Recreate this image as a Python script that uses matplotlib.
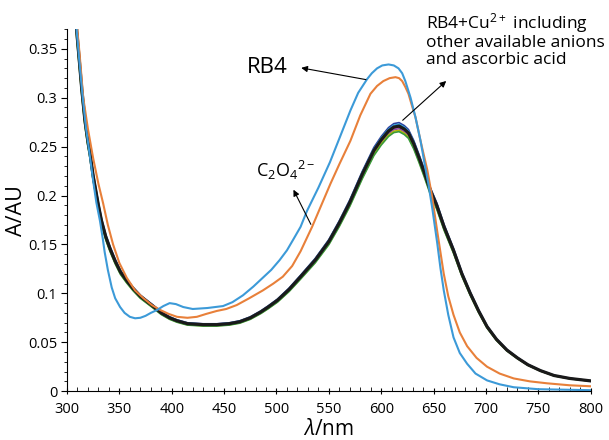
import matplotlib
matplotlib.use('Agg')
import matplotlib.pyplot as plt
from matplotlib.ticker import MultipleLocator, FuncFormatter

plt.rcParams['font.family'] = ['Open Sans', 'DejaVu Sans']
plt.rcParams['mathtext.fontset'] = 'custom'
plt.rcParams['mathtext.rm'] = 'Open Sans'
plt.rcParams['mathtext.it'] = 'Open Sans:italic'

# RB4 alone (blue)
wl_rb4 = [305, 309.3, 312, 315, 318, 321, 325, 328, 331.5, 334, 336, 339, 342.7, 346, 350.7,
          355, 360, 365, 370, 375, 380, 386, 392, 398, 404, 411, 420, 434, 449, 458, 468,
          478, 487, 495, 503, 510, 516, 523, 529, 540, 551, 561, 570.6, 578, 586.5, 591,
          596, 601, 607, 612, 616.5, 620, 623, 628, 632.7, 637.5, 642, 645, 649, 653.5,
          656.5, 659.7, 664, 669, 675, 682, 690, 701, 713, 726.5, 750, 775, 800]
abs_rb4 = [0.46, 0.368, 0.335, 0.30, 0.27, 0.247, 0.215, 0.193, 0.174, 0.157, 0.142, 0.124,
           0.106, 0.095, 0.086, 0.080, 0.076, 0.0745, 0.075, 0.077, 0.080, 0.083, 0.087,
           0.090, 0.089, 0.086, 0.084, 0.085, 0.087, 0.091, 0.098, 0.107, 0.116, 0.124,
           0.134, 0.144, 0.155, 0.168, 0.184, 0.208, 0.234, 0.261, 0.287, 0.305, 0.319,
           0.325, 0.330, 0.333, 0.334, 0.333, 0.330, 0.325, 0.317, 0.300, 0.280, 0.256,
           0.229, 0.212, 0.185, 0.151, 0.126, 0.103, 0.078, 0.055, 0.039, 0.028, 0.018,
           0.011, 0.007, 0.004, 0.002, 0.0015, 0.001]

# RB4 + C2O4(2-) (orange)
wl_ox = [305, 309.8, 312, 315.5, 320, 325, 330, 334.5, 339, 344, 350, 357, 365, 373, 381,
         389, 397, 405, 415, 424, 433, 443, 452, 462, 474, 487, 497, 506, 515, 523, 534,
         551.5, 560, 570.6, 580, 589.7, 596, 602, 608, 613.6, 617, 620, 623, 626, 629,
         632.7, 637.5, 644, 648.7, 653.5, 659.7, 664, 669, 675, 682, 691, 701, 713, 726.5,
         742, 758.6, 780, 800]
abs_ox = [0.47, 0.37, 0.345, 0.30, 0.268, 0.238, 0.212, 0.192, 0.170, 0.150, 0.131, 0.116,
          0.103, 0.095, 0.088, 0.083, 0.079, 0.076, 0.075, 0.076, 0.079, 0.082, 0.084,
          0.088, 0.095, 0.103, 0.110, 0.117, 0.128, 0.143, 0.168, 0.212, 0.232, 0.256,
          0.282, 0.304, 0.312, 0.317, 0.320, 0.321, 0.320, 0.317, 0.311, 0.304, 0.293,
          0.280, 0.256, 0.226, 0.198, 0.163, 0.120, 0.097, 0.078, 0.060, 0.046, 0.034,
          0.025, 0.018, 0.013, 0.010, 0.008, 0.006, 0.005]

# RB4 + Cu2+ (black); other anions / ascorbic acid overlap it
wl_cu = [305, 309.3, 312, 314, 317, 320, 322, 325, 327, 330, 333, 337, 341, 346, 351, 357,
         363, 370, 376, 382, 390, 398, 405, 415, 430, 443, 455, 465, 475, 485, 492, 501,
         512, 523, 537, 550, 560, 570, 582, 593, 600, 607, 612, 617, 622, 626, 631, 636,
         641, 647, 653, 660, 669, 677, 685, 693, 701, 710, 720, 730, 740, 752, 765, 780, 800]
abs_cu = [0.46, 0.368, 0.335, 0.31, 0.278, 0.255, 0.243, 0.220, 0.208, 0.190, 0.174, 0.158,
          0.146, 0.133, 0.122, 0.113, 0.105, 0.097, 0.092, 0.087, 0.080, 0.075, 0.072,
          0.069, 0.068, 0.068, 0.069, 0.071, 0.075, 0.081, 0.086, 0.093, 0.104, 0.117,
          0.134, 0.153, 0.172, 0.193, 0.222, 0.246, 0.257, 0.266, 0.270, 0.271, 0.268,
          0.264, 0.253, 0.239, 0.224, 0.205, 0.190, 0.168, 0.144, 0.120, 0.100, 0.082,
          0.066, 0.053, 0.042, 0.034, 0.027, 0.021, 0.016, 0.013, 0.0105]
# relative peak heights of the overlapping anion curves
anion_scale = [1.013, 1.007, 0.996, 0.99, 0.984, 0.979]
anion_colors = ['#2b3f9e', '#2f9fd8', '#c0392b', '#8e44ad', '#b5b800', '#3a9a3a']

fig = plt.figure(figsize=(6.09, 4.40), dpi=100)
ax = fig.add_axes([0.110, 0.111, 0.860, 0.823])

for s, c in zip(anion_scale, anion_colors):
    ax.plot(wl_cu, [v * s for v in abs_cu], color=c, lw=1.2)
ax.plot(wl_cu, abs_cu, color='#1a1a1a', lw=2.3)
ax.plot(wl_ox, abs_ox, color='#e8803a', lw=1.5)
ax.plot(wl_rb4, abs_rb4, color='#3c9ad8', lw=1.5)

ax.set_xlim(300, 800)
ax.set_ylim(0, 0.3702)
ax.spines['top'].set_visible(False)
ax.spines['right'].set_visible(False)
ax.xaxis.set_major_locator(MultipleLocator(50))
ax.xaxis.set_minor_locator(MultipleLocator(10))
ax.yaxis.set_major_locator(MultipleLocator(0.05))
ax.yaxis.set_minor_locator(MultipleLocator(0.01))
ax.yaxis.set_major_formatter(FuncFormatter(lambda v, p: ('%g' % round(v, 2))))
ax.tick_params(axis='x', which='major', direction='inout', length=5, labelsize=10.5, pad=5)
ax.tick_params(axis='x', which='minor', direction='in', length=3)
ax.tick_params(axis='y', which='major', direction='out', length=4, labelsize=10.5, pad=3)
ax.tick_params(axis='y', which='minor', direction='out', length=2)

ax.set_ylabel('A/AU', fontsize=15.5)
ax.yaxis.set_label_coords(-0.076, 0.5)
ax.set_xlabel(r'$\mathit{\lambda}$/nm', fontsize=15, labelpad=2)

# annotations
ax.annotate('', xy=(521, 0.331), xytext=(588, 0.318),
            arrowprops=dict(arrowstyle='-|>', color='black', lw=0.8, mutation_scale=9))
ax.text(511, 0.331, 'RB4', fontsize=16, ha='right', va='center')

ax.annotate('', xy=(664, 0.319), xytext=(618.5, 0.275),
            arrowprops=dict(arrowstyle='-|>', color='black', lw=0.8, mutation_scale=9))
ax.text(643, 0.389, 'RB4+Cu$^{2+}$ including\nother available anions\nand ascorbic acid',
        fontsize=12.5, ha='left', va='top', linespacing=1.05)

ax.annotate('', xy=(515, 0.2085), xytext=(534, 0.168),
            arrowprops=dict(arrowstyle='-|>', color='black', lw=0.8, mutation_scale=9))
ax.text(480, 0.2255, 'C$_2$O$_4$$^{2-}$', fontsize=13, ha='left', va='center')

plt.savefig('out.png', dpi=100)
